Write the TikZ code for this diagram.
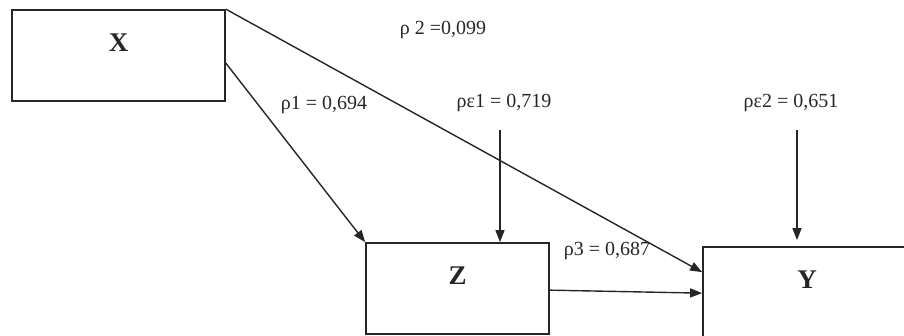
\documentclass[tikz,border=0pt]{standalone}
\usepackage{fontspec}
\setmainfont{Liberation Serif}
\usetikzlibrary{arrows.meta, positioning}

\begin{document}
\begin{tikzpicture}[x=1pt, y=-1pt, line width=1.4pt, color=black!85, >={Triangle[length=12pt, width=9pt]},
	var/.style={draw, rectangle, line width=1.7pt, inner sep=0pt, text height=41pt, font=\fontsize{27}{27}\selectfont\bfseries},
	coef/.style={font=\fontsize{20}{20}\selectfont}]
	
	\useasboundingbox (0,0) rectangle (904,335);
	
	% Nodes
	\node[var, minimum width=213pt, text depth=50pt] (X) at (118.5,55.5) {X};
	\node[var, minimum width=183pt, text depth=50pt] (Z) at (457.5,288.5) {Z};
	\node[var, minimum width=208pt, text depth=54pt] (Y) at (807,294.5) {Y};
	
	\node[coef] (p2) at (443,30) {ρ 2 =0,099};
	\node[coef] (p1) at (324,105) {ρ1 = 0,694};
	\node[coef] (pe1) at (504,103) {ρε1 = 0,719};
	\node[coef] (pe2) at (791,103) {ρε2 = 0,651};
	\node[coef] (p3) at (607,251) {ρ3 = 0,687};
	
	\coordinate (e1) at (500,130);
	\coordinate (e2) at (797,130);
	
	% Arrows
	\draw[->] (X.north east) -- ([yshift=-26pt]Y.north west);
	\draw[->] ([yshift=-54pt]X.north east) -- (Z.north west);
	\draw[->] ([yshift=-48pt]Z.north east) -- ([yshift=-47pt]Y.north west);
	\draw[->] (e1) -- (e1 |- Z.north);
	\draw[->, shorten >=6pt] (e2) -- (e2 |- Y.north);
	
\end{tikzpicture}
\end{document}
